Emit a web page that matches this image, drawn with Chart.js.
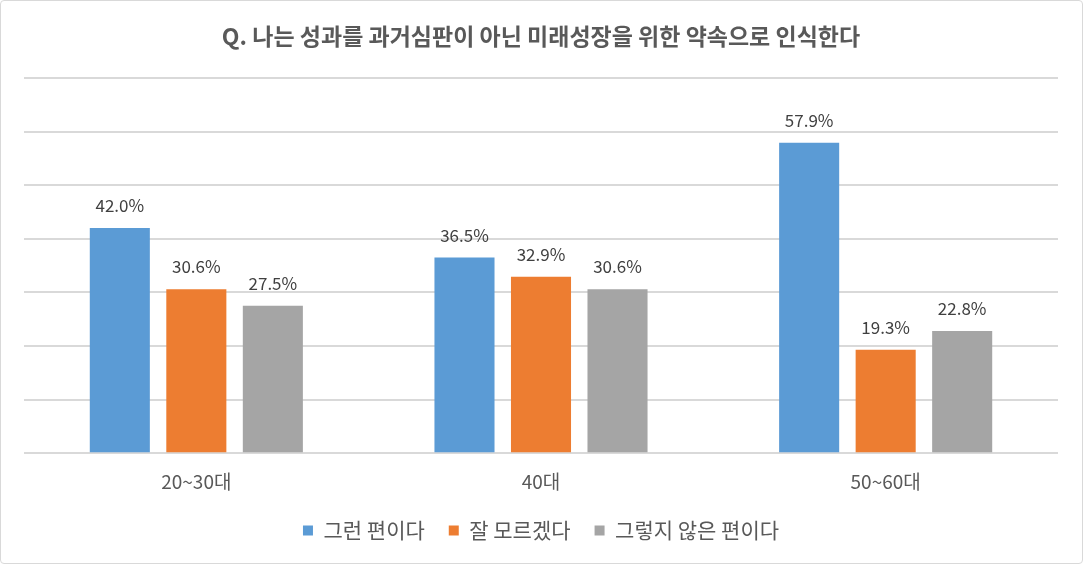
<!DOCTYPE html>
<html>
<head>
<meta charset="utf-8">
<script src="https://cdn.jsdelivr.net/npm/chart.js@4"></script>
<style>
  html, body { margin: 0; padding: 0; background: #fff; }
  #wrap { position: absolute; left: 0; top: 0; width: 1083px; height: 564px; box-sizing: border-box;
          border: 1px solid #D9D9D9; border-radius: 4px; background: #fff; }
  canvas { display: block; }
</style>
</head>
<body>
<div id="wrap"><canvas id="c" width="1081" height="562"></canvas></div>
<script>
const titleText = 'Q. 나는 성과를 과거심판이 아닌 미래성장을 위한 약속으로 인식한다';
const categories = ['20~30대', '40대', '50~60대'];
const seriesNames = ['그런 편이다', '잘 모르겠다', '그렇지 않은 편이다'];
const seriesAgree = [42.0, 36.5, 57.9];
const seriesUnsure = [30.6, 32.9, 19.3];
const seriesDisagree = [27.5, 30.6, 22.8];
const seriesColors = ['#5B9BD5', '#ED7D31', '#A5A5A5'];
const yMax = 70;
const yStep = 10;

const FONT = '"Noto Sans CJK KR", "Noto Sans", sans-serif';

const dataLabels = {
  id: 'dataLabels',
  afterDatasetsDraw(chart) {
    const ctx = chart.ctx;
    ctx.save();
    ctx.font = '17px ' + FONT;
    ctx.fillStyle = '#404040';
    ctx.textAlign = 'center';
    ctx.textBaseline = 'alphabetic';
    chart.data.datasets.forEach((ds, i) => {
      const meta = chart.getDatasetMeta(i);
      meta.data.forEach((el, j) => {
        ctx.fillText(ds.data[j].toFixed(1) + '%', el.x, el.y - 16);
      });
    });
    ctx.restore();
  }
};

const allSeries = [seriesAgree, seriesUnsure, seriesDisagree];

new Chart(document.getElementById('c'), {
  type: 'bar',
  data: {
    labels: categories,
    datasets: allSeries.map((vals, i) => ({
      label: seriesNames[i],
      data: vals,
      backgroundColor: seriesColors[i],
      borderWidth: 0,
      categoryPercentage: 0.666,
      barPercentage: 0.785
    }))
  },
  options: {
    responsive: false,
    animation: false,
    devicePixelRatio: 1,
    layout: { padding: { left: 23, right: 24, top: 0, bottom: 12 } },
    plugins: {
      title: {
        display: true,
        text: titleText,
        color: '#595959',
        font: { family: FONT, size: 23, weight: 'bold' },
        padding: { top: 21.2, bottom: 28.2 }
      },
      legend: {
        display: true,
        position: 'bottom',
        labels: {
          color: '#595959',
          font: { family: FONT, size: 21 },
          boxWidth: 10,
          boxHeight: 10,
          padding: 24
        }
      },
      tooltip: { enabled: false }
    },
    scales: {
      x: {
        grid: { display: false },
        border: { display: false },
        ticks: { color: '#595959', font: { family: FONT, size: 19 }, padding: 9 },
        afterFit: (scale) => { scale.height -= 6; }
      },
      y: {
        min: 0,
        max: yMax,
        ticks: { display: false, stepSize: yStep },
        grid: { color: '#D9D9D9', lineWidth: 2, drawTicks: false },
        border: { display: false }
      }
    }
  },
  plugins: [dataLabels]
});
</script>
</body>
</html>
